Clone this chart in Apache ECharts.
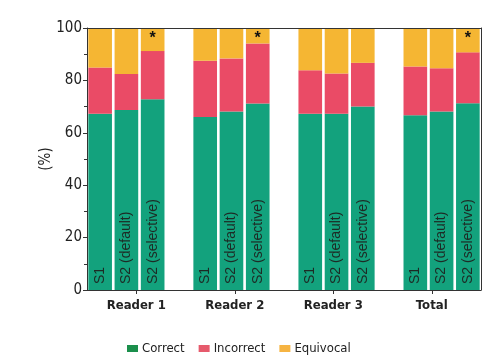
<!DOCTYPE html>
<html>
<head>
<meta charset="utf-8">
<script src="https://cdn.jsdelivr.net/npm/echarts@6/dist/echarts.min.js"></script>
<style>html,body{margin:0;padding:0;background:#fff}#c{width:500px;height:362px}</style>
</head>
<body>
<div id="c"></div>
<script>
var groups = ['Reader 1', 'Reader 2', 'Reader 3', 'Total'];
var methods = ['S1', 'S2 (default)', 'S2 (selective)'];
// per group, per method (S1, S2 default, S2 selective)
var correct   = [67.3, 68.7, 72.8,  66.0, 68.1, 71.2,  67.3, 67.3, 70.0,  66.7, 68.1, 71.3];
var incorrect = [17.6, 13.7, 18.4,  21.5, 20.3, 22.9,  16.6, 15.3, 16.7,  18.6, 16.5, 19.4];
var equivocal = [15.1, 17.6,  8.8,  12.5, 11.6,  5.9,  16.1, 17.4, 13.3,  14.7, 15.4,  9.3];
var significant = [false, false, true,  false, false, true,  false, false, false,  false, false, true];
var yTicks = [0, 20, 40, 60, 80, 100];

var FONT = '"DejaVu Sans Condensed", "Liberation Sans Narrow", sans-serif';
var LABEL_FONT = '"Liberation Sans", Arial, sans-serif';

// build slot categories: 3 bars per group, one empty slot between groups
var slots = [], slotLabel = [], cData = [], iData = [], eData = [], sig = [];
groups.forEach(function (g, gi) {
  methods.forEach(function (m, mi) {
    var k = gi * methods.length + mi;
    slots.push(g + '|' + m);
    slotLabel.push(m);
    cData.push(correct[k]);
    iData.push(incorrect[k]);
    eData.push(equivocal[k]);
    sig.push(significant[k]);
  });
  if (gi < groups.length - 1) {
    slots.push('gap' + gi);
    slotLabel.push('');
    cData.push(null); iData.push(null); eData.push(null); sig.push(false);
  }
});

var chart = echarts.init(document.getElementById('c'), null, {renderer: 'canvas'});
var colors = ['#13a27d', '#ea4b66', '#f5b633'];
var legendColors = ['#1b8f4c', '#e65a6c', '#f6b442'];

chart.setOption({
  animation: false,
  grid: {left: 87, right: 19, top: 28, bottom: 72},
  legend: {
    left: 122, top: 337,
    itemWidth: 11, itemHeight: 7, itemGap: 14,
    icon: 'rect',
    textStyle: {fontFamily: FONT, fontSize: 13, color: '#222', padding: [0, 0, 0, -1]},
    data: [
      {name: 'Correct', itemStyle: {color: legendColors[0]}},
      {name: 'Incorrect', itemStyle: {color: legendColors[1]}},
      {name: 'Equivocal', itemStyle: {color: legendColors[2]}}
    ]
  },
  xAxis: [
    {
      type: 'category', data: slots, show: false, gridIndex: 0
    },
    {
      type: 'category', data: groups, position: 'bottom', z: 10,
      axisLine: {show: true, lineStyle: {color: '#333', width: 1}},
      axisTick: {show: true, alignWithLabel: true, length: 4, lineStyle: {color: '#333'}},
      axisLabel: {fontFamily: FONT, fontSize: 13, fontWeight: 'bold', color: '#222', margin: 9}
    },
    {
      type: 'category', data: groups, position: 'top', z: 10,
      axisLine: {show: true, lineStyle: {color: '#333', width: 1}},
      axisTick: {show: false}, axisLabel: {show: false}
    }
  ],
  yAxis: [
    {
      type: 'value', min: yTicks[0], max: yTicks[yTicks.length - 1], interval: 20, z: 10,
      name: '(%)', nameLocation: 'middle', nameGap: 33, nameRotate: 90, nameMoveOverlap: false,
      nameTextStyle: {fontFamily: FONT, fontSize: 15, color: '#222'},
      axisLine: {show: true, lineStyle: {color: '#333', width: 1}},
      axisTick: {show: true, length: 4, lineStyle: {color: '#333'}},
      minorTick: {show: true, splitNumber: 2, length: 3, lineStyle: {color: '#333'}},
      splitLine: {show: false},
      axisLabel: {fontFamily: FONT, fontSize: 15, color: '#222', margin: 5}
    },
    {
      type: 'value', min: 0, max: 100, position: 'right', z: 10,
      axisLine: {show: true, lineStyle: {color: '#333', width: 1}},
      axisTick: {show: false}, axisLabel: {show: false}, splitLine: {show: false}
    }
  ],
  series: [
    {
      name: 'Correct', type: 'bar', stack: 's', xAxisIndex: 0, yAxisIndex: 0,
      barCategoryGap: '10%', data: cData, itemStyle: {color: colors[0]},
      label: {
        show: true, position: 'insideBottom', rotate: 90, align: 'left', verticalAlign: 'middle',
        distance: 6, fontFamily: LABEL_FONT, fontSize: 14, color: '#1d2b25',
        formatter: function (p) { return slotLabel[p.dataIndex]; }
      }
    },
    {
      name: 'Incorrect', type: 'bar', stack: 's', xAxisIndex: 0, yAxisIndex: 0,
      barCategoryGap: '10%', data: iData, itemStyle: {color: colors[1]}
    },
    {
      name: 'Equivocal', type: 'bar', stack: 's', xAxisIndex: 0, yAxisIndex: 0,
      barCategoryGap: '10%', data: eData, itemStyle: {color: colors[2]},
      label: {
        show: true, position: 'insideTop', distance: 3,
        fontFamily: LABEL_FONT, fontSize: 16, fontWeight: 'bold', color: '#111',
        formatter: function (p) { return sig[p.dataIndex] ? '*' : ''; }
      }
    }
  ]
});
</script>
</body>
</html>
